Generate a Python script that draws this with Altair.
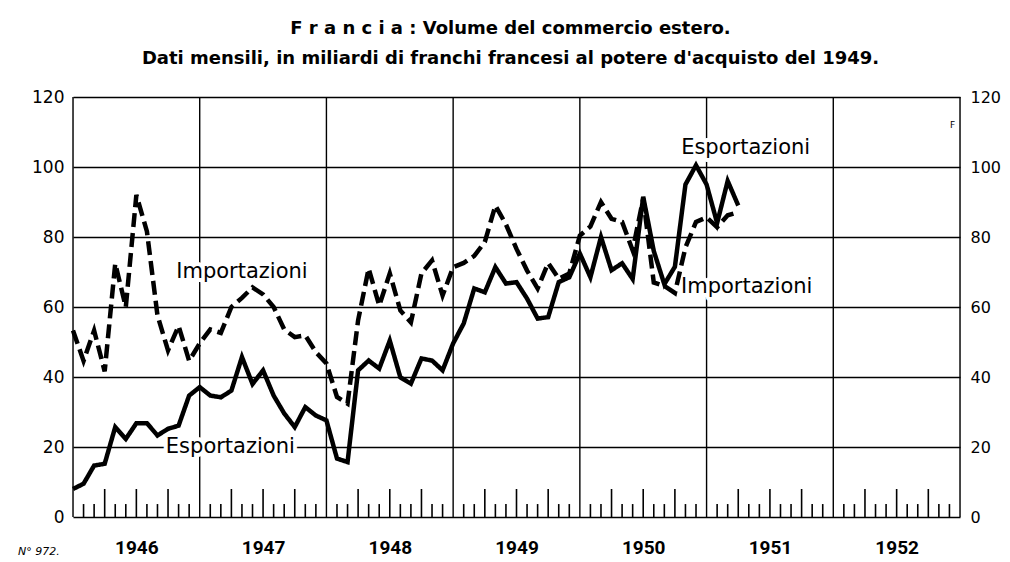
import altair as alt
import pandas as pd

# ---------------- data ----------------
year_labels = ["1946", "1947", "1948", "1949", "1950", "1951", "1952"]
y_values = [0, 20, 40, 60, 80, 100, 120]
series_names = ["Esportazioni", "Importazioni"]

# monthly values, Jan 1946 .. Apr 1951 (miliardi di franchi 1949)
esportazioni = [8, 9.5, 14.7, 15.2, 25.7, 22.3, 26.8, 26.8, 23.3, 25.2, 26.1, 34.7,
                37.1, 34.7, 34.2, 36.1, 45.7, 38.0, 41.9, 34.7, 29.6, 25.7, 31.4, 29.0,
                27.6, 16.7, 15.7, 41.9, 44.7, 42.4, 50.4, 39.9, 38.1, 45.3, 44.7, 41.9,
                49.6, 55.3, 65.3, 64.2, 71.4, 66.7, 67.1, 62.4, 56.7, 57.1, 67.1, 68.5,
                75.3, 68.5, 80.0, 70.5, 72.5, 68.0, 91.5, 76.0, 66.5, 71.5, 95.0, 100.5,
                95.0, 84.0, 96.0, 89.0]
importazioni = [53.3, 44.6, 53.3, 41.6, 72.4, 60.0, 92.0, 81.6, 57.6, 47.6, 54.6, 44.6,
                49.6, 53.6, 52.6, 60.0, 62.6, 65.6, 63.6, 60.0, 53.6, 51.4, 51.9, 47.1,
                43.9, 34.3, 32.4, 56.2, 71.0, 60.4, 69.6, 59.0, 55.6, 69.6, 73.3, 63.3,
                71.4, 72.6, 74.6, 78.6, 89.0, 83.6, 76.6, 70.4, 65.3, 72.6, 68.1, 69.6,
                80.4, 83.0, 90.0, 85.2, 84.3, 76.2, 91.0, 67.0, 66.0, 64.0, 77.0, 84.3,
                85.6, 82.8, 86.2, 87.1]

label_texts = ["Importazioni", "Esportazioni", "Esportazioni", "Importazioni"]
label_months = [16.0, 14.9, 63.7, 63.8]
label_values = [70.1, 20.1, 105.3, 65.6]

title_lines = ["F r a n c i a :  Volume del commercio estero.",
               "Dati mensili, in miliardi di franchi francesi al potere d'acquisto del 1949."]

# ---------------- tables ----------------
n_months = 12 * len(year_labels)
lines_df = pd.DataFrame({
    "month": list(range(len(esportazioni))) + list(range(len(importazioni))),
    "value": esportazioni + importazioni,
    "series": [series_names[0]] * len(esportazioni) + [series_names[1]] * len(importazioni),
})
year_df = pd.DataFrame({"month": [12 * k for k in range(len(year_labels) + 1)],
                        "lo": 0, "hi": y_values[-1]})
tick_df = pd.DataFrame({"month": [m for m in range(1, n_months) if m % 12 != 0]})
tick_df["lo"] = 0
tick_df["hi"] = [8.0 if m % 3 == 0 else 3.7 for m in tick_df["month"]]
label_df = pd.DataFrame({"text": label_texts, "month": label_months, "value": label_values})
year_lab_df = pd.DataFrame({"month": [12 * k + 6 for k in range(len(year_labels))],
                            "lo": 0})

FONT = "DejaVu Sans"
W, H = 887, 420

xs = alt.Scale(domain=[0, n_months], nice=False, zero=False)
ys = alt.Scale(domain=[y_values[0], y_values[-1]], nice=False)
label_expr = "[" + ",".join("'%s'" % y for y in year_labels) + "][floor(datum.value/12)]"

# vertical year lines + left axis with horizontal grid
year_rules = alt.Chart(year_df).mark_rule(color="black", strokeWidth=1.4).encode(
    x=alt.X("month:Q", scale=xs, axis=None),
    y=alt.Y("lo:Q", scale=ys, axis=alt.Axis(
        values=y_values, orient="left", grid=True, gridColor="black", gridWidth=1.4,
        gridOpacity=1, ticks=False, domain=False, title=None, labelFont=FONT,
        labelFontSize=17, labelColor="black", labelPadding=9)),
    y2="hi:Q",
)

# monthly ticks + right axis
month_ticks = alt.Chart(tick_df).mark_rule(color="black", strokeWidth=1.6).encode(
    x=alt.X("month:Q", scale=xs, axis=None),
    y=alt.Y("lo:Q", scale=ys, axis=alt.Axis(
        values=y_values, orient="right", grid=False, ticks=False, domain=False,
        title=None, labelFont=FONT, labelFontSize=16, labelColor="black",
        labelPadding=10)),
    y2="hi:Q",
)

# year labels axis
year_axis = alt.Chart(year_lab_df).mark_point(opacity=0).encode(
    x=alt.X("month:Q", scale=xs, axis=alt.Axis(
        values=[12 * k + 6 for k in range(len(year_labels))], labelExpr=label_expr,
        grid=False, ticks=False, domain=False, title=None, labelFont="Roboto",
        labelFontSize=19, labelFontWeight="bold", labelColor="black", labelPadding=21)),
    y=alt.Y("lo:Q", scale=ys, axis=None),
)

lines = alt.Chart(lines_df).mark_line(color="black", strokeWidth=4.5, strokeJoin="miter").encode(
    x=alt.X("month:Q", scale=xs, axis=None),
    y=alt.Y("value:Q", scale=ys, axis=None),
    strokeDash=alt.StrokeDash("series:N", scale=alt.Scale(
        domain=series_names, range=[[1, 0], [14, 6]]), legend=None),
    detail="series:N",
)

halo = alt.Chart(label_df).mark_text(font=FONT, fontSize=21, color="white",
                                     stroke="white", strokeWidth=8, strokeJoin="round").encode(
    x=alt.X("month:Q", scale=xs, axis=None),
    y=alt.Y("value:Q", scale=ys, axis=None),
    text="text:N",
)
labels = alt.Chart(label_df).mark_text(font=FONT, fontSize=21, color="black").encode(
    x=alt.X("month:Q", scale=xs, axis=None),
    y=alt.Y("value:Q", scale=ys, axis=None),
    text="text:N",
)

f_mark = alt.Chart(pd.DataFrame({"t": ["F"], "month": [83.3], "value": [112.1]})).mark_text(
    font=FONT, fontSize=9, color="black").encode(
    x=alt.X("month:Q", scale=xs, axis=None),
    y=alt.Y("value:Q", scale=ys, axis=None),
    text="t:N",
)

num_mark = alt.Chart(pd.DataFrame({"t": ["N° 972."]})).mark_text(
    font=FONT, fontSize=11, fontStyle="italic", color="black", align="left").encode(
    x=alt.value(-55), y=alt.value(455), text="t:N",
)

chart = alt.layer(year_rules, month_ticks, year_axis, halo, lines, labels, f_mark, num_mark).resolve_axis(
    y="independent", x="independent"
).properties(
    width=W, height=H,
    title=alt.TitleParams(text=title_lines, font="DejaVu Sans",
                          fontSize=18, fontWeight="bold", color="black", lineHeight=30,
                          anchor="middle", offset=20, dx=-6),
    autosize=alt.AutoSizeParams(type="none"),
    padding={"left": 65, "top": 89, "right": 42, "bottom": 44},
).configure_view(stroke="black", strokeWidth=2).configure(background="white")

chart.save("out.html", embed_options={"renderer": "svg", "actions": False})
